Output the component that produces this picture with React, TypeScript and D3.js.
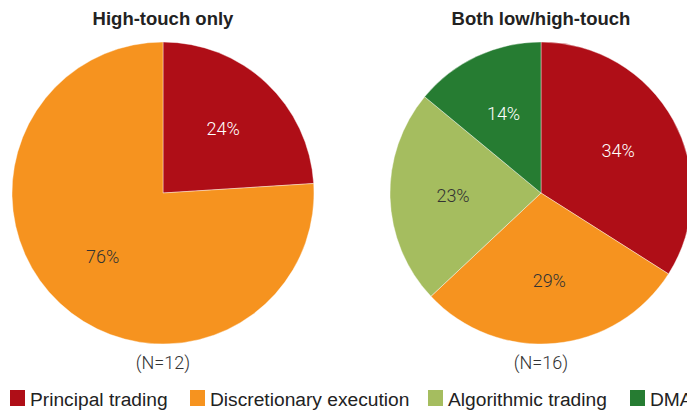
import React, { useRef, useEffect } from 'react';
import * as d3 from 'd3';

// categories and colours
const categories = ['Principal trading', 'Discretionary execution', 'Algorithmic trading', 'DMA'];
const colors = ['#AF0E17', '#F6931F', '#A5BD5F', '#267C32'];
const labelColors = ['#ffffff', '#333333', '#333333', '#ffffff'];

// series values (%)
const highTouchOnly = [24, 76, 0, 0];
const bothLowHigh = [34, 29, 23, 14];

const panelTitles = ['High-touch only', 'Both low/high-touch'];
const panelNotes = ['(N=12)', '(N=16)'];

const W = 687;
const H = 412;

const App = () => {
  const svgRef = useRef<SVGSVGElement>(null);

  useEffect(() => {
    const svg = d3.select(svgRef.current);
    svg.selectAll('*').remove();

    const radius = 151;
    const centers = [163, 541];
    const cy = 193;
    const font = '"Liberation Sans", Arial, sans-serif';

    const pie = d3.pie<number>().sort(null).value(d => d);
    const arc = d3.arc<d3.PieArcDatum<number>>().innerRadius(0).outerRadius(radius);
    const labelArc = d3.arc<d3.PieArcDatum<number>>().innerRadius(88).outerRadius(88);

    [highTouchOnly, bothLowHigh].forEach((series, i) => {
      const g = svg.append('g').attr('transform', `translate(${centers[i]},${cy})`);
      const arcs = pie(series).map((a, k) => ({ ...a, k })).filter(a => a.value > 0);

      g.selectAll('path.slice')
        .data(arcs)
        .enter()
        .append('path')
        .attr('class', 'slice')
        .attr('d', d => arc(d) as string)
        .attr('fill', d => colors[d.k])
        .attr('stroke', '#ffffff')
        .attr('stroke-width', 0.4);

      g.selectAll('text.pct')
        .data(arcs)
        .enter()
        .append('text')
        .attr('class', 'pct')
        .attr('transform', d => `translate(${labelArc.centroid(d)})`)
        .attr('text-anchor', 'middle')
        .attr('dy', '0.35em')
        .attr('font-family', 'Roboto, "Liberation Sans", sans-serif')
        .attr('font-weight', 300)
        .attr('font-size', 18)
        .attr('fill', d => labelColors[d.k])
        .text(d => `${d.value}%`);

      svg.append('text')
        .attr('x', centers[i])
        .attr('y', 25)
        .attr('text-anchor', 'middle')
        .attr('font-family', font)
        .attr('font-weight', 'bold')
        .attr('font-size', 18.5)
        .attr('fill', '#222')
        .text(panelTitles[i]);

      svg.append('text')
        .attr('x', centers[i])
        .attr('y', 369)
        .attr('text-anchor', 'middle')
        .attr('font-family', 'Roboto, "Liberation Sans", sans-serif')
        .attr('font-weight', 300)
        .attr('font-size', 18)
        .attr('fill', '#333')
        .text(panelNotes[i]);
    });

    // legend
    const legendX = [10, 190, 428, 630];
    const legend = svg.append('g');
    categories.forEach((c, k) => {
      legend.append('rect')
        .attr('x', legendX[k])
        .attr('y', 390)
        .attr('width', 15)
        .attr('height', 16)
        .attr('fill', colors[k]);
      legend.append('text')
        .attr('x', legendX[k] + 20)
        .attr('y', 405.5)
        .attr('font-family', font)
        .attr('font-size', 19.2)
        .attr('fill', '#222')
        .text(c);
    });
  }, []);

  return (
    <svg
      ref={svgRef}
      width={W}
      height={H}
      style={{ position: 'absolute', left: 0, top: 0, background: '#fff' }}
    />
  );
};

export default App;
